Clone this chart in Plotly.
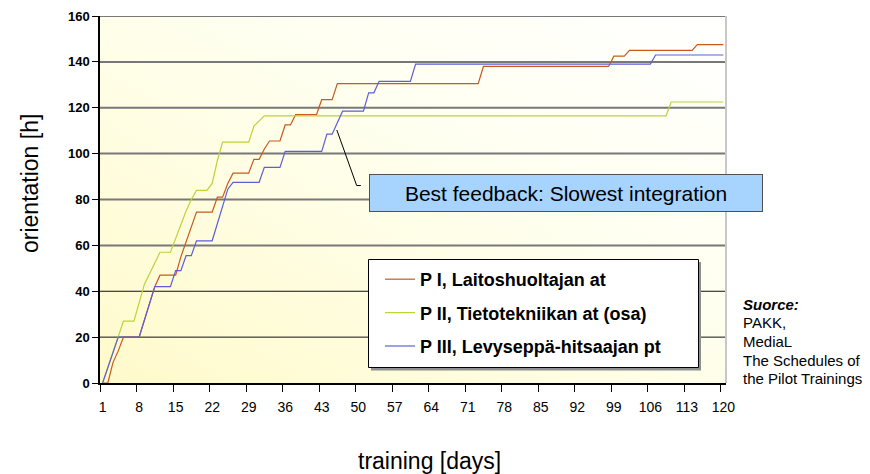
import base64
import plotly.graph_objects as go

# ---------------- data ----------------
x_tick_days = [1, 8, 15, 22, 29, 36, 43, 50, 57, 64, 71, 78, 85, 92, 99, 106, 113, 120]
y_tick_vals = [0, 20, 40, 60, 80, 100, 120, 140, 160]
grid_dark_thin = [20, 40]
grid_gray_thick = [60, 80, 100, 120, 140, 160]

p1_name = "P I, Laitoshuoltajan at"
p1_days = [1, 2, 3, 4, 5, 8, 11, 12, 15, 16, 19, 22, 23, 24, 25, 26, 29, 30, 31, 32, 33,
           35, 36, 37, 38, 42, 43, 45, 46, 73, 74, 98, 99, 101, 102, 114, 115, 120]
p1_hours = [0, 0, 9, 14, 20, 20, 42, 47, 47, 55, 74.5, 74.5, 81, 81, 87, 91.5, 91.5, 97.5, 97.5, 102, 105.5,
            105.5, 112.5, 112.5, 117, 117, 123.5, 123.5, 130.5, 130.5, 138, 138, 142.5, 142.5, 145, 145, 147.5, 147.5]

p2_name = "P II, Tietotekniikan at (osa)"
p2_days = [1, 5, 7, 9, 12, 14, 17, 18, 19, 21, 22, 23, 24, 29, 30, 32, 109, 110, 120]
p2_hours = [0, 27, 27, 43, 57, 57, 75, 80, 84, 84, 87, 97, 105, 105, 112, 116.5, 116.5, 122.5, 122.5]

p3_name = "P III, Levyseppä-hitsaajan pt"
p3_days = [1, 4, 8, 11, 14, 15, 16, 17, 18, 19, 22, 25, 26, 31, 32, 35, 36, 43, 44, 45, 47,
           51, 52, 53, 54, 60, 61, 106, 107, 120]
p3_hours = [0, 20, 20, 42, 42, 49, 49, 55.5, 55.5, 62, 62, 84.5, 87.5, 87.5, 94, 94, 101, 101, 108.5, 108.5, 118.5,
            118.5, 126.5, 126.5, 131.5, 131.5, 139, 139, 143, 143]

callout_text = "Best feedback: Slowest integration"
source_lines = ["<b><i>Suorce:</i></b>", "PAKK,", "MediaL", "The Schedules of", "the Pilot Trainings"]
x_title = "training [days]"
y_title = "orientation [h]"

# ---------------- styling / layout ----------------
# the page body has an 8px margin, so the figure is made 8px smaller and
# all pixel positions below are given in window coordinates
OFF = 8
WIN_W, WIN_H = 870, 474
PL, PR, PT, PB = 100, 726, 16, 383          # plot area in window pixels
W, H = WIN_W - OFF, WIN_H - OFF
L, R, T, B = PL - OFF, WIN_W - PR, PT - OFF, WIN_H - PB
PW, PH = PR - PL, PB - PT
FONT = "Liberation Sans, Arial, sans-serif"


def px(xp):
    return (xp - PL) / PW


def py(yp):
    return (PB - yp) / PH


fig = go.Figure()
series = [
    (p1_name, p1_days, p1_hours, "#C85A1E"),
    (p2_name, p2_days, p2_hours, "#BBD436"),
    (p3_name, p3_days, p3_hours, "#5E5ED8"),
]
for i, (name, d, h, c) in enumerate(series):
    fig.add_trace(go.Scatter(x=d, y=h, mode="lines", name=name,
                             line=dict(color=c, width=1.2), legendgroup=f"g{i}"))

svg = ('<svg xmlns="http://www.w3.org/2000/svg" viewBox="0 0 100 100" preserveAspectRatio="none" '
       'width="100" height="100"><defs><linearGradient id="g" x1="0" y1="1" x2="1" y2="0">'
       '<stop offset="0" stop-color="#FFFACB"/><stop offset="0.6" stop-color="#FFFFF0"/>'
       '<stop offset="1" stop-color="#FFFFFF"/></linearGradient></defs>'
       '<rect x="0" y="0" width="100" height="100" fill="url(#g)"/></svg>')
svg_uri = "data:image/svg+xml;base64," + base64.b64encode(svg.encode()).decode()

shapes = []
for g in grid_gray_thick:
    shapes.append(dict(type="line", xref="paper", yref="y", x0=0, x1=1, y0=g, y1=g,
                       line=dict(color="#787878", width=2), layer="between"))
for g in grid_dark_thin:
    shapes.append(dict(type="line", xref="paper", yref="y", x0=0, x1=1, y0=g, y1=g,
                       line=dict(color="#111111", width=1), layer="between"))
shapes += [
    # right border of plot area
    dict(type="line", xref="paper", yref="paper", x0=1, x1=1, y0=0, y1=1,
         line=dict(color="#C8C8C8", width=2)),
    # legend shadow + box
    dict(type="rect", xref="paper", yref="paper", x0=px(371), x1=px(701), y0=py(370.5), y1=py(262),
         fillcolor="#909090", line=dict(width=0), layer="above"),
    dict(type="rect", xref="paper", yref="paper", x0=px(368.5), x1=px(698.5), y0=py(367.5), y1=py(259.5),
         fillcolor="white", line=dict(color="black", width=1), layer="above"),
    # callout leader line
    dict(type="path", xref="x", yref="y", path="M 45.9,110.3 L 49.7,86.1 L 50.5,86.1",
         line=dict(color="black", width=1), layer="above"),
]

annotations = [
    dict(text=callout_text, xref="paper", yref="paper", x=px(565.5), y=py(193),
         xanchor="center", yanchor="middle", showarrow=False,
         font=dict(family=FONT, size=21, color="black"),
         bgcolor="#A7D3FF", bordercolor="#505050", borderwidth=1, borderpad=4,
         width=384, height=28),
    dict(text=y_title, xref="paper", yref="paper", x=px(30), y=py(184), textangle=-90,
         xanchor="center", yanchor="middle", showarrow=False,
         font=dict(family=FONT, size=23, color="black")),
    dict(text=x_title, xref="paper", yref="paper", x=px(429), y=py(461),
         xanchor="center", yanchor="middle", showarrow=False,
         font=dict(family=FONT, size=23, color="black")),
]
src_y = [304, 322.5, 341, 360, 378.5]
for txt, yy in zip(source_lines, src_y):
    annotations.append(dict(text=txt, xref="paper", yref="paper", x=px(741), y=py(yy),
                            xanchor="left", yanchor="middle", showarrow=False,
                            font=dict(family=FONT, size=15, color="black")))

fig.update_layout(
    width=W, height=H,
    margin=dict(l=L, r=R, t=T, b=B, autoexpand=False),
    paper_bgcolor="white",
    plot_bgcolor="rgba(0,0,0,0)",
    font=dict(family=FONT, color="black"),
    images=[dict(source=svg_uri, xref="paper", yref="paper", x=0, y=1, sizex=1, sizey=1,
                 sizing="stretch", xanchor="left", yanchor="top", layer="below")],
    shapes=shapes,
    annotations=annotations,
    showlegend=True,
    legend=dict(x=px(380), y=py(261), xanchor="left", yanchor="top",
                bgcolor="rgba(0,0,0,0)", borderwidth=0,
                font=dict(family=FONT, size=18, color="black", weight="bold"),
                traceorder="grouped", tracegroupgap=7),
    xaxis=dict(range=[0.5, 120.5], tickmode="array", tickvals=x_tick_days,
               ticktext=[str(v) for v in x_tick_days],
               ticks="outside", ticklen=7, tickcolor="rgba(0,0,0,0)", ticklabelstandoff=3,
               minor=dict(tick0=0.5, dtick=7, ticks="outside", ticklen=7, tickcolor="black", tickwidth=1),
               showgrid=False, zeroline=False, showline=True, linecolor="black", linewidth=1.5,
               tickfont=dict(family=FONT, size=14, color="black")),
    yaxis=dict(range=[0, 160], tickmode="array", tickvals=y_tick_vals,
               ticks="outside", ticklen=6, tickcolor="black",
               showgrid=False, zeroline=False, showline=True, linecolor="black", linewidth=1.5,
               tickfont=dict(family=FONT, size=13, color="black", weight="bold")),
)

fig.write_html("out.html")
